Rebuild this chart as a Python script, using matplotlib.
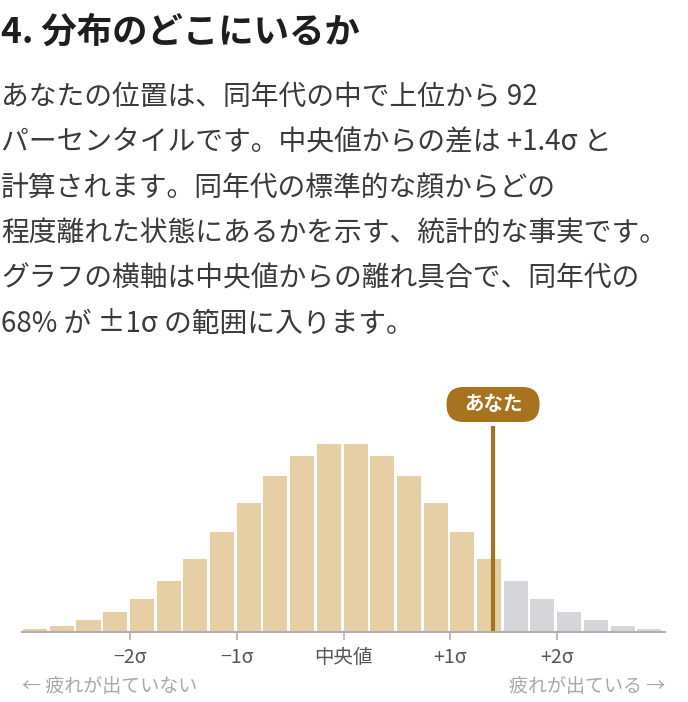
import numpy as np
import matplotlib
matplotlib.use("Agg")
import matplotlib.pyplot as plt
from matplotlib.patches import FancyBboxPatch
from matplotlib.transforms import IdentityTransform

plt.rcParams["font.family"] = ["Noto Sans CJK JP", "DejaVu Sans"]

W, H = 688, 702

# bins of 0.25 sigma from -3 to +3, bar heights (relative)
BIN_LEFT = [-3.0 + 0.25 * i for i in range(24)]
HEIGHTS = [10, 18, 35, 60, 98, 152, 220, 300, 386, 466, 527, 563,
           563, 527, 466, 386, 300, 220, 152, 98, 60, 35, 18, 10]
YOU = 1.4
TICKS = [-2, -1, 0, 1, 2]
TICK_LABELS = ["−2σ", "−1σ", "中央値", "+1σ", "+2σ"]

TITLE = "4. 分布のどこにいるか"
BODY = [
    "あなたの位置は、同年代の中で上位から 92",
    "パーセンタイルです。中央値からの差は +1.4σ と",
    "計算されます。同年代の標準的な顔からどの",
    "程度離れた状態にあるかを示す、統計的な事実です。",
    "グラフの横軸は中央値からの離れ具合で、同年代の",
    "68% が ±1σ の範囲に入ります。",
]

BEIGE, GREY, BROWN = "#e6cfa4", "#d6d5da", "#a8731f"


def fx(px):
    return px / W


def fy(py):
    return 1 - py / H


fig = plt.figure(figsize=(W / 100, H / 100), dpi=100)
fig.text(fx(1), fy(32), TITLE, fontsize=25.5, fontweight="bold", color="#1e1e1e", va="center")
for i, line in enumerate(BODY):
    fig.text(fx(1), fy(97 + i * 45.3), line, fontsize=20, color="#3a3a3a", va="center")

base, top = 632, 380
ax = fig.add_axes([fx(22), fy(base), fx(665) - fx(22), (base - top) / H])
ymax = 563 * (base - top) / (base - 444)
colors = [BEIGE if x + 0.25 <= 1.5 else GREY for x in BIN_LEFT]
ax.bar(BIN_LEFT, HEIGHTS, width=0.225, align="edge", color=colors, linewidth=0)
ax.set_xlim(-3.01, 3.01)
ax.set_ylim(0, ymax)

line_top = 563 * (base - 426) / (base - 444)
ax.plot([YOU, YOU], [0, line_top], color=BROWN, linewidth=3, solid_capstyle="butt")

# "あなた" pill above the marker
px_you = ax.transData.transform((YOU, 0))[0]
pill_w, pill_h = 93, 35
fig.add_artist(FancyBboxPatch((px_you - pill_w / 2, H - 422), pill_w, pill_h,
                              boxstyle="round,pad=0,rounding_size=17",
                              transform=IdentityTransform(), fc=BROWN, ec="none"))
fig.text(px_you / W, fy(404.5), "あなた", ha="center", va="center", fontsize=14,
         fontweight="bold", color="white")

for s in ["top", "right", "left"]:
    ax.spines[s].set_visible(False)
ax.spines["bottom"].set_color("#b0b0b4")
ax.spines["bottom"].set_linewidth(1.5)
ax.set_yticks([])
ax.set_xticks(TICKS)
ax.set_xticklabels(TICK_LABELS, fontsize=14, color="#555555")
ax.tick_params(axis="x", length=6, width=1.2, color="#b0b0b4", pad=5)

fig.text(fx(22), fy(687), "← 疲れが出ていない", fontsize=13.7, color="#a8a8a8", va="center")
fig.text(fx(665), fy(687), "疲れが出ている →", fontsize=13.7, color="#a8a8a8", va="center", ha="right")

fig.savefig("out.png", dpi=100)
